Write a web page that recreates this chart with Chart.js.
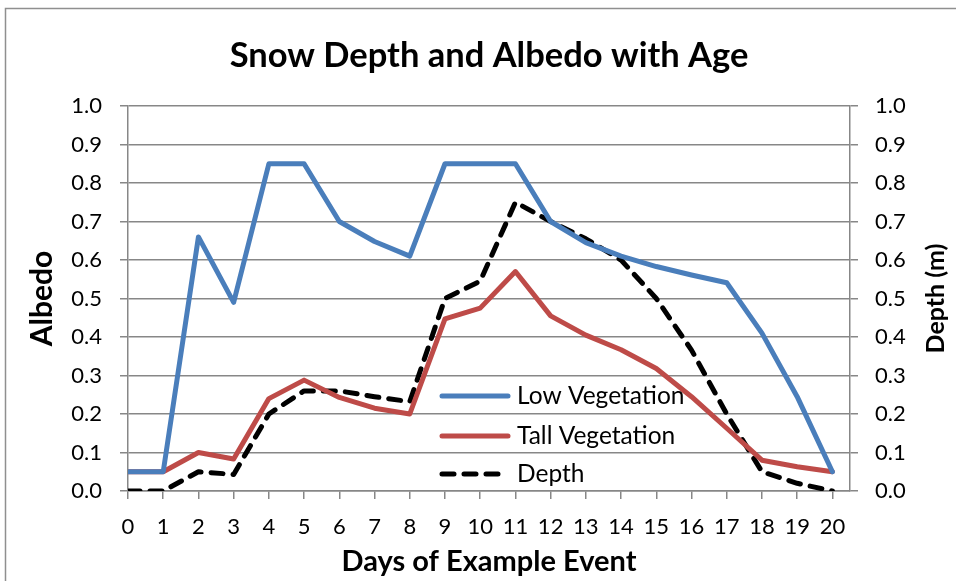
<!DOCTYPE html>
<html>
<head>
<meta charset="utf-8">
<title>Snow Depth and Albedo with Age</title>
<script src="https://cdn.jsdelivr.net/npm/chart.js@4.4.0/dist/chart.umd.min.js"></script>
<style>
    html, body { margin: 0; padding: 0; background: #fff; }
    #snowChart { display: block; }
</style>
</head>
<body>
<canvas id="snowChart" width="956" height="581"></canvas>
<script>
// Values
const days = [0, 1, 2, 3, 4, 5, 6, 7, 8, 9, 10, 11, 12, 13, 14, 15, 16, 17, 18, 19, 20];
const lowVegetation = [0.05, 0.05, 0.66, 0.49, 0.85, 0.85, 0.70, 0.648, 0.61, 0.85, 0.85, 0.85, 0.70, 0.645, 0.61, 0.583, 0.561, 0.541, 0.41, 0.245, 0.05];
const tallVegetation = [0.05, 0.05, 0.10, 0.083, 0.24, 0.288, 0.243, 0.215, 0.20, 0.447, 0.475, 0.57, 0.455, 0.405, 0.367, 0.318, 0.245, 0.163, 0.08, 0.063, 0.05];
const depth = [0, 0, 0.05, 0.043, 0.20, 0.26, 0.26, 0.245, 0.232, 0.50, 0.545, 0.75, 0.70, 0.655, 0.60, 0.50, 0.366, 0.20, 0.05, 0.02, 0];

const FONT = 'Lato, "Open Sans", sans-serif';
const GRID = '#878787';

function toPoints(values) {
    return days.map((d, i) => ({ x: d, y: values[i] }));
}

// white background + outer chart frame
const framePlugin = {
    id: 'frame',
    beforeDraw(chart) {
        const ctx = chart.ctx;
        ctx.save();
        ctx.fillStyle = '#fff';
        ctx.fillRect(0, 0, chart.width, chart.height);
        ctx.strokeStyle = '#8f8f8f';
        ctx.lineWidth = 1.5;
        ctx.strokeRect(5.5, 8.5, chart.width + 20, chart.height + 20);
        ctx.restore();
    }
};

// legend sits inside the plot area, like the Excel original
const insideLegend = {
    id: 'insideLegend',
    afterDatasetsDraw(chart) {
        const ctx = chart.ctx;
        const x0 = 442, x1 = 508, tx = 517;
        const rows = [396, 436, 474];
        ctx.save();
        chart.data.datasets.forEach((ds, i) => {
            const y = rows[i];
            ctx.beginPath();
            ctx.strokeStyle = ds.borderColor;
            ctx.lineWidth = ds.borderWidth;
            ctx.lineCap = 'round';
            ctx.setLineDash(ds.borderDash || []);
            ctx.moveTo(x0, y);
            ctx.lineTo(x1, y);
            ctx.stroke();
            ctx.setLineDash([]);
            ctx.fillStyle = '#000';
            ctx.font = '24.5px ' + FONT;
            ctx.textAlign = 'left';
            ctx.textBaseline = 'middle';
            ctx.fillText(ds.label, tx, y);
        });
        ctx.restore();
    }
};

// right axis title reads bottom-to-top in the original
const rightTitle = {
    id: 'rightTitle',
    afterDraw(chart) {
        const ctx = chart.ctx;
        const area = chart.chartArea;
        ctx.save();
        ctx.translate(936, (area.top + area.bottom) / 2);
        ctx.rotate(-Math.PI / 2);
        ctx.font = 'bold 25px ' + FONT;
        ctx.fillStyle = '#000';
        ctx.textAlign = 'center';
        ctx.textBaseline = 'middle';
        ctx.fillText('Depth (m)', 0, 0);
        ctx.restore();
    }
};

const lineStyle = {
    borderWidth: 5,
    pointRadius: 0,
    tension: 0,
    fill: false,
    borderJoinStyle: 'round',
    borderCapStyle: 'round'
};

new Chart(document.getElementById('snowChart'), {
    type: 'line',
    data: {
        datasets: [
            Object.assign({ label: 'Low Vegetation', data: toPoints(lowVegetation), borderColor: '#4a7ebb', yAxisID: 'y' }, lineStyle),
            Object.assign({ label: 'Tall Vegetation', data: toPoints(tallVegetation), borderColor: '#be4b48', yAxisID: 'y' }, lineStyle),
            Object.assign({ label: 'Depth', data: toPoints(depth), borderColor: '#000000', borderDash: [12, 10], yAxisID: 'y1' }, lineStyle)
        ]
    },
    options: {
        responsive: false,
        animation: false,
        devicePixelRatio: 1,
        // left padding pushes the chart title centre right, as in the original
        layout: { padding: { left: 22, right: 0, top: 0, bottom: 0 } },
        plugins: {
            legend: { display: false },
            tooltip: { enabled: false },
            title: {
                display: true,
                text: 'Snow Depth and Albedo with Age',
                color: '#000',
                font: { family: FONT, size: 34.5, weight: 'bold' },
                padding: { top: 35, bottom: 29.6 }
            }
        },
        scales: {
            x: {
                type: 'linear',
                min: 0,
                max: 20.5,
                afterBuildTicks(scale) {
                    scale.ticks = days.map(d => ({ value: d }));
                },
                afterFit(scale) { scale.height = 90; },
                grid: { drawOnChartArea: false, drawTicks: true, tickLength: 8, color: GRID, lineWidth: 1.5 },
                border: { display: true, color: GRID, width: 1.5 },
                ticks: {
                    autoSkip: false,
                    maxRotation: 0,
                    padding: 15,
                    color: '#000',
                    font: { family: FONT, size: 22 },
                    callback: v => String(v)
                },
                title: {
                    display: true,
                    text: 'Days of Example Event',
                    color: '#000',
                    font: { family: FONT, size: 29, weight: 'bold' },
                    padding: { top: 0, bottom: 1.6 }
                }
            },
            y: {
                position: 'left',
                min: 0,
                max: 1,
                afterFit(scale) { scale.width = 106; },
                grid: { color: GRID, lineWidth: 1.5, tickLength: 8 },
                border: { display: true, color: GRID, width: 1.5 },
                ticks: {
                    stepSize: 0.1,
                    padding: 18,
                    color: '#000',
                    font: { family: FONT, size: 22 },
                    callback: v => v.toFixed(1)
                },
                title: {
                    display: true,
                    text: 'Albedo',
                    color: '#000',
                    font: { family: FONT, size: 30, weight: 'bold' },
                    padding: { top: 2, bottom: 0 }
                }
            },
            y1: {
                position: 'right',
                min: 0,
                max: 1,
                afterFit(scale) { scale.width = 106; },
                grid: { drawOnChartArea: false, color: GRID, lineWidth: 1.5, tickLength: 8 },
                border: { display: true, color: GRID, width: 1.5 },
                ticks: {
                    stepSize: 0.1,
                    padding: 17,
                    color: '#000',
                    font: { family: FONT, size: 22 },
                    callback: v => v.toFixed(1)
                }
            }
        }
    },
    plugins: [framePlugin, insideLegend, rightTitle]
});
</script>
</body>
</html>
